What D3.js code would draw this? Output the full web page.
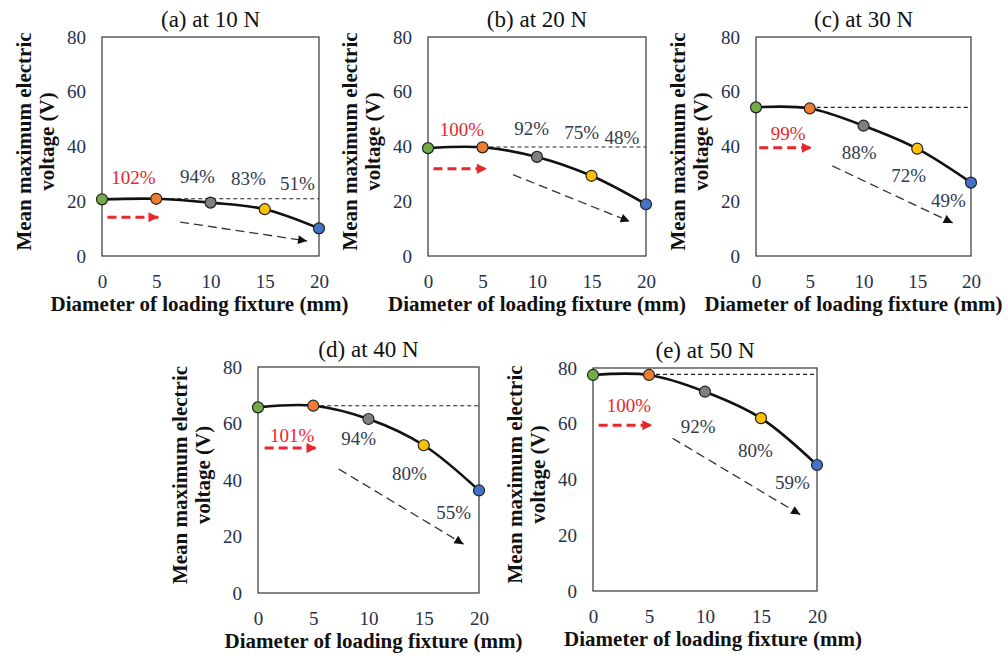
<!DOCTYPE html>
<html>
<head>
<meta charset="utf-8">
<script src="https://cdn.jsdelivr.net/npm/d3@7"></script>
<style>
  body { margin: 0; background: #fff; }
  svg { display: block; }
</style>
</head>
<body>
<div id="chart"></div>
<script>
// ---- data ----
const diameters = [0, 5, 10, 15, 20];
const xTicks = [0, 5, 10, 15, 20];
const yTicks = [0, 20, 40, 60, 80];
const panelTitles = ["(a) at 10 N", "(b) at 20 N", "(c) at 30 N", "(d) at 40 N", "(e) at 50 N"];

const voltage10N = [20.7, 20.9, 19.5, 17.1, 10.1];
const voltage20N = [39.4, 39.7, 36.2, 29.3, 18.9];
const voltage30N = [54.3, 53.9, 47.6, 39.2, 26.8];
const voltage40N = [65.7, 66.3, 61.6, 52.3, 36.3];
const voltage50N = [77.5, 77.5, 71.5, 62.0, 45.2];

// dashed reference level (value at 5 mm)
const referenceLevel = [20.9, 39.8, 54.3, 66.3, 77.7];

const retention = [
    ["102%", "94%", "83%", "51%"],
    ["100%", "92%", "75%", "48%"],
    ["99%", "88%", "72%", "49%"],
    ["101%", "94%", "80%", "55%"],
    ["100%", "92%", "80%", "59%"]
];
// label anchor points in data units [diameter, voltage]
const retentionPos = [
    [[2.9, 28.9], [8.8, 29.0], [13.5, 28.5], [18.0, 26.6]],
    [[3.1, 46.1], [9.5, 46.8], [14.1, 45.0], [17.8, 43.5]],
    [[3.0, 44.9], [9.6, 38.0], [14.2, 29.6], [17.9, 20.5]],
    [[3.1, 55.9], [9.1, 54.9], [13.7, 42.5], [17.7, 28.7]],
    [[3.2, 66.7], [9.4, 59.1], [14.5, 50.5], [17.8, 38.9]]
];
// red arrow: [x0, x1, y]
const redArrows = [[0.5, 5.2, 14.2], [0.5, 5.4, 31.9], [0.3, 5.2, 39.5], [0.6, 5.3, 51.3], [0.5, 5.3, 59.5]];
// black arrow: [x0, y0, x1, y1]
const trendArrows = [
    [7.2, 12.4, 18.9, 5.5],
    [7.8, 29.7, 18.5, 12.6],
    [7.1, 32.9, 18.3, 12.1],
    [7.3, 43.9, 18.6, 17.3],
    [7.1, 54.8, 18.5, 27.4]
];

const series = [voltage10N, voltage20N, voltage30N, voltage40N, voltage50N];
const pointColors = ["#70ad47", "#ed7d31", "#7f7f7f", "#ffc000", "#4472c4"];

// ---- layout ----
const panels = [
    { left: 102, top: 37, width: 217, height: 219, xTitleShift: -11 },
    { left: 428, top: 37, width: 218, height: 219, xTitleShift: 0 },
    { left: 756, top: 37, width: 215, height: 219, xTitleShift: -10 },
    { left: 258, top: 367, width: 221, height: 226, xTitleShift: 5 },
    { left: 593, top: 368, width: 224, height: 223, xTitleShift: 8 }
];

const FONT = "'Liberation Serif', 'DejaVu Serif', serif";
const tickColor = "#25304a";
const labelColor = "#333a4d";
const red = "#e8262b";

const svg = d3.select("#chart")
    .append("svg")
    .attr("width", 1008)
    .attr("height", 659);

svg.append("rect").attr("width", 1008).attr("height", 659).attr("fill", "#fff");

const defs = svg.append("defs");
defs.append("marker")
    .attr("id", "head-red")
    .attr("markerUnits", "userSpaceOnUse")
    .attr("viewBox", "0 0 10 10")
    .attr("refX", 10).attr("refY", 5)
    .attr("markerWidth", 13).attr("markerHeight", 10)
    .attr("orient", "auto")
    .append("path").attr("d", "M0,0L10,5L0,10Z").attr("fill", red);
defs.append("marker")
    .attr("id", "head-black")
    .attr("markerUnits", "userSpaceOnUse")
    .attr("viewBox", "0 0 10 10")
    .attr("refX", 10).attr("refY", 5)
    .attr("markerWidth", 12).attr("markerHeight", 9)
    .attr("orient", "auto")
    .append("path").attr("d", "M0,0L10,5L0,10Z").attr("fill", "#111");

panels.forEach((p, i) => {
    const x = d3.scaleLinear().domain([0, 20]).range([p.left, p.left + p.width]);
    const y = d3.scaleLinear().domain([0, 80]).range([p.top + p.height, p.top]);
    const g = svg.append("g").attr("font-family", FONT);
    const cx = p.left + p.width / 2;
    const cy = p.top + p.height / 2;

    // title
    g.append("text")
        .attr("x", cx)
        .attr("y", p.top - 10)
        .attr("text-anchor", "middle")
        .style("font-family", FONT)
        .style("font-size", "23px")
        .style("fill", "#111")
        .text(panelTitles[i]);

    // axes
    const yAxis = g.append("g")
        .attr("transform", `translate(${p.left},0)`)
        .call(d3.axisLeft(y).tickValues(yTicks).tickSize(0).tickPadding(16));
    const xAxis = g.append("g")
        .attr("transform", `translate(0,${p.top + p.height})`)
        .call(d3.axisBottom(x).tickValues(xTicks).tickSize(0).tickPadding(19));
    [xAxis, yAxis].forEach(a => {
        a.attr("font-family", FONT);
        a.select(".domain").remove();
        a.selectAll("text")
            .style("font-family", FONT)
            .style("font-size", "19px")
            .style("fill", tickColor);
    });

    // frame
    g.append("rect")
        .attr("x", p.left).attr("y", p.top)
        .attr("width", p.width).attr("height", p.height)
        .attr("fill", "none")
        .attr("stroke", "#444")
        .attr("stroke-width", 1.3);

    // axis titles
    g.append("text")
        .attr("x", cx + p.xTitleShift)
        .attr("y", p.top + p.height + 55)
        .attr("text-anchor", "middle")
        .style("font-family", FONT)
        .style("font-size", "21px")
        .style("font-weight", "bold")
        .style("fill", "#111")
        .text("Diameter of loading fixture (mm)");

    const yTitle = g.append("text")
        .attr("transform", `translate(${p.left - 71},${cy - 5}) rotate(-90)`)
        .attr("text-anchor", "middle")
        .style("font-family", FONT)
        .style("font-size", "21px")
        .style("font-weight", "bold")
        .style("fill", "#111");
    yTitle.append("tspan").attr("x", 0).attr("y", 0).text("Mean maximum electric");
    yTitle.append("tspan").attr("x", 0).attr("y", 23).text("voltage (V)");

    // dashed reference
    g.append("line")
        .attr("x1", x(5)).attr("x2", x(20))
        .attr("y1", y(referenceLevel[i])).attr("y2", y(referenceLevel[i]))
        .attr("stroke", "#222")
        .attr("stroke-width", 1.1)
        .attr("stroke-dasharray", "4,3");

    // smoothed curve
    const pts = diameters.map((d, k) => [d, series[i][k]]);
    g.append("path")
        .datum(pts)
        .attr("fill", "none")
        .attr("stroke", "#111")
        .attr("stroke-width", 2.6)
        .attr("d", d3.line().x(d => x(d[0])).y(d => y(d[1])).curve(d3.curveCatmullRom.alpha(0.5)));

    g.selectAll(".pt")
        .data(pts)
        .join("circle")
        .attr("class", "pt")
        .attr("cx", d => x(d[0]))
        .attr("cy", d => y(d[1]))
        .attr("r", 5.5)
        .attr("fill", (d, k) => pointColors[k])
        .attr("stroke", "#222")
        .attr("stroke-width", 1.2);

    // arrows
    const ra = redArrows[i];
    g.append("line")
        .attr("x1", x(ra[0])).attr("x2", x(ra[1]))
        .attr("y1", y(ra[2])).attr("y2", y(ra[2]))
        .attr("stroke", red)
        .attr("stroke-width", 3)
        .attr("stroke-dasharray", "9,5")
        .attr("marker-end", "url(#head-red)");

    const ta = trendArrows[i];
    g.append("line")
        .attr("x1", x(ta[0])).attr("y1", y(ta[1]))
        .attr("x2", x(ta[2])).attr("y2", y(ta[3]))
        .attr("stroke", "#333")
        .attr("stroke-width", 1.3)
        .attr("stroke-dasharray", "9,5")
        .attr("marker-end", "url(#head-black)");

    // retention labels
    g.selectAll(".pct")
        .data(retention[i])
        .join("text")
        .attr("class", "pct")
        .attr("x", (d, k) => x(retentionPos[i][k][0]))
        .attr("y", (d, k) => y(retentionPos[i][k][1]))
        .attr("dy", "0.35em")
        .attr("text-anchor", "middle")
        .style("font-family", FONT)
        .style("font-size", "19px")
        .style("fill", (d, k) => k === 0 ? red : labelColor)
        .text(d => d);
});
</script>
</body>
</html>
